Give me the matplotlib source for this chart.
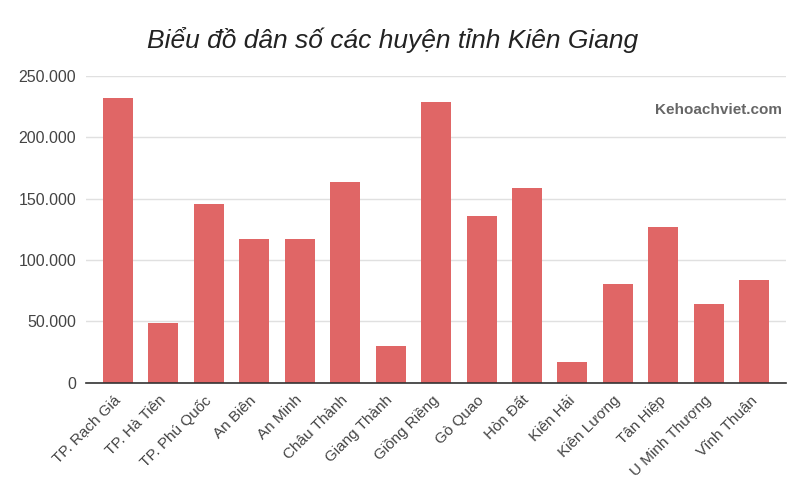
import matplotlib.pyplot as plt
import numpy as np
from matplotlib.ticker import FuncFormatter

# Districts of Kien Giang and their population
districts = ['TP. Rạch Giá', 'TP. Hà Tiên', 'TP. Phú Quốc', 'An Biên', 'An Minh',
             'Châu Thành', 'Giang Thành', 'Giồng Riềng', 'Gò Quao', 'Hòn Đất',
             'Kiên Hải', 'Kiên Lương', 'Tân Hiệp', 'U Minh Thượng', 'Vĩnh Thuận']
population = [232000, 48500, 146000, 117000, 117000,
              163500, 30000, 228700, 136000, 159000,
              17200, 80500, 127200, 64000, 83800]
y_ticks = [0, 50000, 100000, 150000, 200000, 250000]

plt.rcParams['font.family'] = ['Liberation Sans', 'DejaVu Sans']

fig = plt.figure(figsize=(8, 5), dpi=100)
ax = fig.add_axes([0.1075, 0.2346, 0.875, 0.6134])

x = np.arange(len(districts))
ax.bar(x, population, width=0.66, color='#e06666', zorder=3)

ax.set_xlim(-0.705, len(districts) - 0.3)
ax.set_ylim(0, 250000)
ax.set_yticks(y_ticks)
ax.yaxis.set_major_formatter(FuncFormatter(lambda v, p: f'{int(v):,}'.replace(',', '.')))
ax.grid(axis='y', color='#e0e0e0', linewidth=1, zorder=0)

ax.set_xticks(x)
ax.set_xticklabels(districts, rotation=45, ha='right', va='center', rotation_mode='anchor',
                   fontsize=11, color='#444444')
ax.tick_params(axis='y', labelsize=11.5, labelcolor='#444444', length=0, pad=7)
ax.tick_params(axis='x', length=0, pad=11)

for s in ['top', 'right', 'left']:
    ax.spines[s].set_visible(False)
ax.spines['bottom'].set_color('#333333')
ax.spines['bottom'].set_linewidth(1.2)
ax.spines['bottom'].set_zorder(4)

fig.text(0.491, 0.92, 'Biểu đồ dân số các huyện tỉnh Kiên Giang', ha='center', va='center',
         fontsize=19, style='italic', color='#222222')
fig.text(0.977, 0.779, 'Kehoachviet.com', ha='right', va='center', fontsize=11,
         fontweight='bold', color='#666666')

plt.savefig('out.png', dpi=100)
